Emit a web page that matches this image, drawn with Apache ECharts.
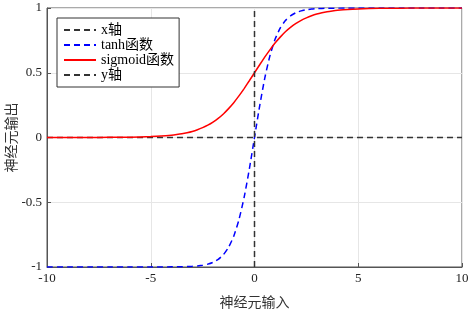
<!DOCTYPE html>
<html>
<head>
<meta charset="utf-8">
<script src="https://cdn.jsdelivr.net/npm/echarts@6/dist/echarts.min.js"></script>
<style>
  html, body { margin: 0; padding: 0; background: #fff; }
  #main { width: 472px; height: 310px; }
</style>
</head>
<body>
<div id="main"></div>
<script>
// 横坐标采样点
var xs = [-10, -9, -8, -7, -6, -5, -4.5, -4, -3.75, -3.5, -3.25, -3, -2.75, -2.5, -2.25, -2, -1.75, -1.5, -1.25, -1, -0.75, -0.5, -0.25,
  0, 0.25, 0.5, 0.75, 1, 1.25, 1.5, 1.75, 2, 2.25, 2.5, 2.75, 3, 3.25, 3.5, 3.75, 4, 4.5, 5, 6, 7, 8, 9, 10];
// tanh函数
var tanhVals = [-1, -1, -1, -1, -1, -1, -1, -0.999, -0.999, -0.998, -0.997, -0.995, -0.992, -0.987, -0.978, -0.964, -0.941, -0.905, -0.848, -0.762, -0.635, -0.462, -0.245,
  0, 0.245, 0.462, 0.635, 0.762, 0.848, 0.905, 0.941, 0.964, 0.978, 0.987, 0.992, 0.995, 0.997, 0.998, 0.999, 0.999, 1, 1, 1, 1, 1, 1, 1];
// sigmoid函数
var sigmoidVals = [0, 0, 0, 0.001, 0.002, 0.007, 0.011, 0.018, 0.023, 0.029, 0.037, 0.047, 0.060, 0.076, 0.095, 0.119, 0.148, 0.182, 0.223, 0.269, 0.321, 0.378, 0.438,
  0.5, 0.562, 0.622, 0.679, 0.731, 0.777, 0.818, 0.852, 0.881, 0.905, 0.924, 0.940, 0.953, 0.963, 0.971, 0.977, 0.982, 0.989, 0.993, 0.998, 0.999, 1, 1, 1];
// 坐标轴参考线
var xAxisLine = [[-10, 0], [10, 0]];
var yAxisLine = [[0, -1], [0, 1]];

var font = "'Liberation Serif', 'Noto Sans CJK SC', serif";

function pairs(vals) {
  var out = [];
  for (var i = 0; i < xs.length; i++) out.push([xs[i], vals[i]]);
  return out;
}

var chart = echarts.init(document.getElementById('main'));
chart.setOption({
  animation: false,
  textStyle: { fontFamily: font },
  grid: {
    left: 47, right: 10, top: 8, bottom: 43,
    outerBoundsMode: 'none', containLabel: false,
    show: true, borderColor: '#555', borderWidth: 1
  },
  legend: {
    orient: 'vertical',
    left: 57, top: 18,
    itemWidth: 32, itemHeight: 10, itemGap: 1,
    padding: [5, 5, 5, 6],
    borderColor: '#333', borderWidth: 1,
    backgroundColor: '#fff',
    itemStyle: { opacity: 0 },
    textStyle: { fontFamily: font, fontSize: 14, lineHeight: 14, color: '#000' },
    data: ['x轴', 'tanh函数', 'sigmoid函数', 'y轴']
  },
  xAxis: {
    type: 'value', min: -10, max: 10, interval: 5,
    name: '神经元输入', nameLocation: 'middle', nameGap: 29, nameMoveOverlap: false,
    nameTextStyle: { fontFamily: font, fontSize: 14, color: '#333' },
    axisLine: { show: true, onZero: false, lineStyle: { color: '#555' } },
    axisTick: { inside: true, length: 4, lineStyle: { color: '#555' } },
    axisLabel: { fontFamily: font, fontSize: 13, color: '#222', margin: 5 },
    splitLine: { lineStyle: { color: '#e6e6e6' } }
  },
  yAxis: {
    type: 'value', min: -1, max: 1, interval: 0.5,
    name: '神经元输出', nameLocation: 'middle', nameGap: 28, nameMoveOverlap: false,
    nameTextStyle: { fontFamily: font, fontSize: 14, color: '#333' },
    axisLine: { show: true, onZero: false, lineStyle: { color: '#555' } },
    axisTick: { inside: true, length: 4, lineStyle: { color: '#555' } },
    axisLabel: { fontFamily: font, fontSize: 13, color: '#222', margin: 5 },
    splitLine: { lineStyle: { color: '#e6e6e6' } }
  },
  series: [
    {
      name: 'x轴', type: 'line', data: xAxisLine, symbol: 'none',
      lineStyle: { color: '#333', width: 1.5, type: [6, 4] },
      itemStyle: { color: '#333' }
    },
    {
      name: 'tanh函数', type: 'line', data: pairs(tanhVals), symbol: 'none', smooth: 0.2,
      lineStyle: { color: '#0000ff', width: 1.5, type: [6, 4] },
      itemStyle: { color: '#0000ff' }
    },
    {
      name: 'sigmoid函数', type: 'line', data: pairs(sigmoidVals), symbol: 'none', smooth: 0.2,
      lineStyle: { color: '#ff0000', width: 1.5 },
      itemStyle: { color: '#ff0000' }
    },
    {
      name: 'y轴', type: 'line', data: yAxisLine, symbol: 'none',
      lineStyle: { color: '#333', width: 1.5, type: [6, 4] },
      itemStyle: { color: '#333' }
    }
  ]
});
</script>
</body>
</html>
